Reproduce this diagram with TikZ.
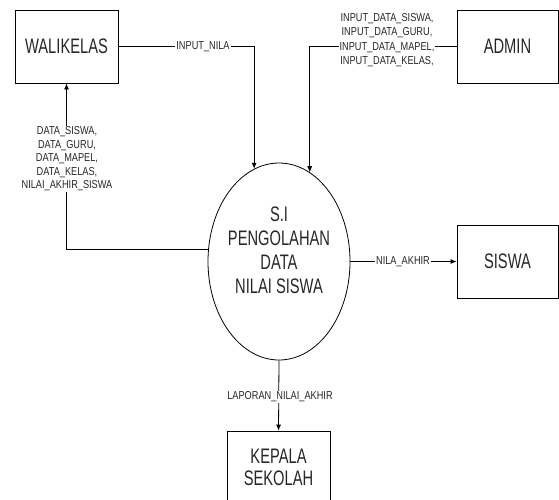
\documentclass[tikz,border=0pt]{standalone}
\usepackage{fontspec}
\setmainfont{Liberation Sans}
\newfontfamily\boxfont[FakeStretch=0.7]{Liberation Sans}
\newfontfamily\flowfont[FakeStretch=0.8]{Liberation Sans}
\usetikzlibrary{shapes.geometric,arrows.meta}
\begin{document}
\begin{tikzpicture}[x=1pt,y=-1pt,
  entity/.style={draw, line width=0.8pt, minimum width=103pt, minimum height=73pt,
    inner sep=0pt, align=center, text=black!85,
    font=\boxfont\fontsize{21}{22}\selectfont},
  process/.style={draw, ellipse, line width=0.8pt, minimum width=142pt,
    minimum height=197pt, inner sep=0pt},
  flow/.style={line width=0.8pt, -{Latex[length=6pt,width=5pt]}},
  flowlabel/.style={fill=white, inner sep=1pt, align=center, text=black!85,
    font=\flowfont\fontsize{11.5}{13.5}\selectfont}]
\useasboundingbox (0,0) rectangle (559,499);
\clip (0,0) rectangle (559,499);

% external entities
\node[entity] (wk) at (66.5,46.5) {WALIKELAS};
\node[entity, minimum width=101pt] (admin) at (507.5,46.5) {ADMIN};
\node[entity, minimum width=101pt] (siswa) at (507.5,261.5) {SISWA};
\node[entity] (kepsek) at (278.5,467.5) {KEPALA\\SEKOLAH};

% the process
\node[process] (si) at (279,261.5) {};
\node[align=center, text=black!85, font=\boxfont\fontsize{21}{24}\selectfont]
  (sitext) at (279,250) {S.I\\PENGOLAHAN\\DATA\\NILAI SISWA};

% data flows
\draw[flow] (wk.east) -| (si.105.8);
\draw[flow] (admin.west) -| (si.71.4);
\draw[flow] (si.170.7) -| (wk.south);
\draw[flow] (si.east) -- (siswa.west);
\draw[flow] (si.south) -- (kepsek.north);

% flow labels
\node[flowlabel] (lnilai) at (203,47) {INPUT\_NILA};
\node[flowlabel, font=\flowfont\fontsize{11.5}{14.5}\selectfont] (ladmin) at (387,40)
  {INPUT\_DATA\_SISWA,\\INPUT\_DATA\_GURU,\\INPUT\_DATA\_MAPEL,\\INPUT\_DATA\_KELAS,};
\node[flowlabel] (ldata) at (67,159)
  {DATA\_SISWA,\\DATA\_GURU,\\DATA\_MAPEL,\\DATA\_KELAS,\\NILAI\_AKHIR\_SISWA};
\node[flowlabel] (lakhir) at (403,262) {NILA\_AKHIR};
\node[flowlabel] (llapor) at (280,397) {LAPORAN\_NILAI\_AKHIR};
\end{tikzpicture}
\end{document}
